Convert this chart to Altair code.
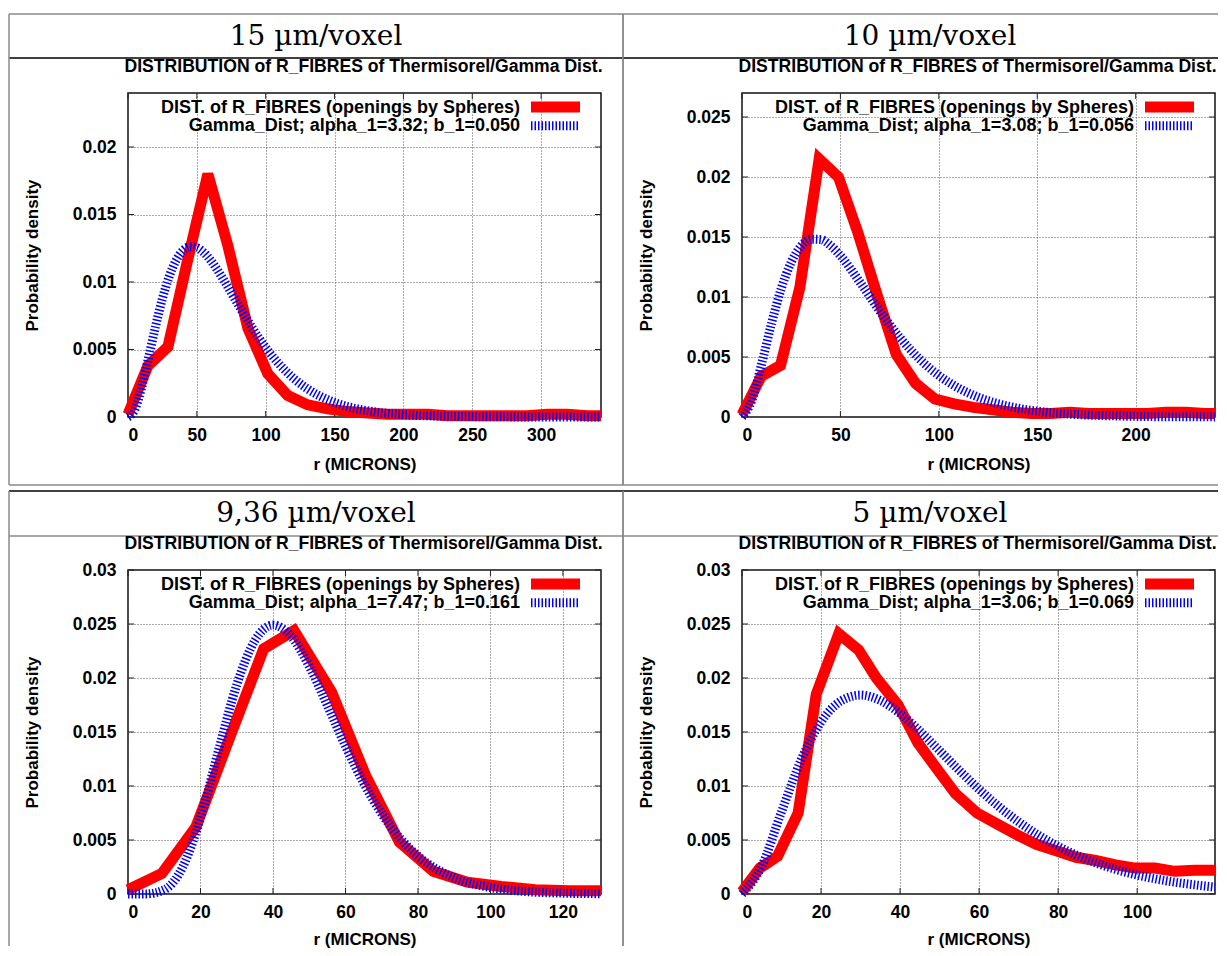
import altair as alt
import pandas as pd

SANS = "Liberation Sans"
SERIF = "DejaVu Serif"

# ---------------- texts ----------------
headers = ["15 \u00b5m/voxel", "10 \u00b5m/voxel", "9,36 \u00b5m/voxel", "5 \u00b5m/voxel"]
subtitle = "DISTRIBUTION of R_FIBRES of Thermisorel/Gamma Dist."
legend_red = "DIST. of R_FIBRES (openings by Spheres)"
legend_blue = [
    "Gamma_Dist; alpha_1=3.32; b_1=0.050",
    "Gamma_Dist; alpha_1=3.08; b_1=0.056",
    "Gamma_Dist; alpha_1=7.47; b_1=0.161",
    "Gamma_Dist; alpha_1=3.06; b_1=0.069",
]
x_title = "r (MICRONS)"
y_title = "Probability density"

# ---------------- axes ----------------
x_max = [343.5, 240.3, 130.5, 119.7]
y_max = [0.024, 0.027, 0.03, 0.03]
x_ticks = [
    [0, 50, 100, 150, 200, 250, 300],
    [0, 50, 100, 150, 200],
    [0, 20, 40, 60, 80, 100, 120],
    [0, 20, 40, 60, 80, 100],
]
y_ticks = [
    [0, 0.005, 0.01, 0.015, 0.02],
    [0, 0.005, 0.01, 0.015, 0.02, 0.025],
    [0, 0.005, 0.01, 0.015, 0.02, 0.025, 0.03],
    [0, 0.005, 0.01, 0.015, 0.02, 0.025, 0.03],
]

# ---------------- data: measured distributions (red) ----------------
red_r1 = [0, 14.5, 29, 43.5, 58, 72.5, 87, 101.5, 116, 130.5, 145, 159.5, 174, 188.5,
          203, 217.5, 232, 246.5, 261, 275.5, 290, 304.5, 319, 333.5, 343.5]
red_p1 = [0.0002, 0.0038, 0.0052, 0.0117, 0.018, 0.0127, 0.0066, 0.0032, 0.0016, 0.0009,
          0.0006, 0.0004, 0.0003, 0.0002, 0.0002, 0.0002, 0.0001, 0.0001, 0.0001, 0.0001,
          0.0001, 0.0002, 0.0002, 0.0001, 0.0001]

red_r2 = [0, 9.8, 19.6, 29.4, 39.2, 49, 58.8, 68.6, 78.4, 88.2, 98, 107.8, 117.6, 127.4,
          137.2, 147, 156.8, 166.6, 176.4, 186.2, 196, 205.8, 215.6, 225.4, 235.2, 240.3]
red_p2 = [0.0002, 0.0034, 0.0043, 0.0108, 0.0215, 0.0200, 0.0154, 0.0102, 0.0052, 0.0028,
          0.0015, 0.0011, 0.0008, 0.0006, 0.0004, 0.0003, 0.0003, 0.0004, 0.0003, 0.0003,
          0.0003, 0.0003, 0.0004, 0.0004, 0.0003, 0.0003]

red_r3 = [0, 9.36, 18.72, 28.08, 37.44, 45.8, 56.16, 65.52, 74.88, 84.24, 93.6, 102.96,
          112.32, 121.68, 130.5]
red_p3 = [0.0004, 0.0019, 0.0062, 0.0145, 0.0227, 0.0244, 0.0187, 0.011, 0.0048, 0.0021,
          0.0011, 0.0007, 0.0004, 0.0003, 0.0003]

red_r4 = [0, 4.5, 9, 14.2, 18.8, 24.5, 29.5, 34, 39.5, 44.5, 49.5, 54, 59.5, 64.5, 69.5,
          74.5, 79.5, 84.5, 89.5, 94.5, 99.5, 104.5, 109.5, 114.5, 119.7]
red_p4 = [0.0002, 0.0024, 0.0035, 0.0075, 0.0185, 0.0241, 0.0226, 0.02, 0.0175, 0.014,
          0.0115, 0.0093, 0.0075, 0.0065, 0.0055, 0.0046, 0.004, 0.0034, 0.0031, 0.0027,
          0.0024, 0.0024, 0.0021, 0.0022, 0.0022]

# ---------------- data: fitted gamma curves (blue) ----------------
blue_r1 = [0, 5, 10, 15, 20, 25, 30, 35, 40, 45, 50, 55, 60, 70, 80, 90, 100, 110, 120,
           130, 140, 150, 160, 180, 200, 225, 250, 275, 300, 343.5]
blue_p1 = [0, 0.00057, 0.00222, 0.00442, 0.00671, 0.00877, 0.01043, 0.01161, 0.01233,
           0.01262, 0.01254, 0.01219, 0.01161, 0.01007, 0.00833, 0.00664, 0.00514, 0.00389,
           0.00289, 0.00211, 0.00152, 0.00108, 0.00076, 0.00037, 0.00017, 0.00007, 0.00003,
           0.00001, 0.000004, 0.0000005]

blue_r2 = [0, 5, 10, 15, 20, 25, 30, 35, 40, 45, 50, 60, 70, 80, 90, 100, 110, 120, 130,
           140, 150, 170, 190, 210, 240.3]
blue_p2 = [0, 0.00139, 0.00444, 0.0078, 0.01073, 0.0129, 0.01424, 0.01482, 0.01479,
           0.01428, 0.01344, 0.01122, 0.00883, 0.00666, 0.00486, 0.00346, 0.00241, 0.00165,
           0.00111, 0.00074, 0.00049, 0.00021, 0.00009, 0.00003, 0.00001]

blue_r3 = [0, 5, 10, 15, 20, 25, 30, 35, 40, 45, 50, 55, 60, 65, 70, 75, 80, 90, 100, 110,
           120, 130.5]
blue_p3 = [0, 0.00001, 0.0004, 0.00244, 0.00703, 0.01332, 0.01937, 0.02347, 0.0249,
           0.02385, 0.02109, 0.01746, 0.0137, 0.01028, 0.00743, 0.00519, 0.00352, 0.00151,
           0.0006, 0.00022, 0.00008, 0.00003]

blue_r4 = [0, 5, 10, 15, 20, 25, 30, 35, 40, 45, 50, 55, 60, 65, 70, 75, 80, 85, 90, 95,
           100, 105, 110, 115, 119.7]
blue_p4 = [0, 0.00258, 0.00762, 0.01244, 0.01593, 0.01786, 0.01842, 0.01792, 0.01671,
           0.01508, 0.01327, 0.01144, 0.00969, 0.0081, 0.00668, 0.00545, 0.00441, 0.00354,
           0.00282, 0.00223, 0.00176, 0.00138, 0.00107, 0.00083, 0.00064]

red_r = [red_r1, red_r2, red_r3, red_r4]
red_p = [red_p1, red_p2, red_p3, red_p4]
blue_r = [blue_r1, blue_r2, blue_r3, blue_r4]
blue_p = [blue_p1, blue_p2, blue_p3, blue_p4]

# ---------------- layout ----------------
W, H = 473, 324
GRAY = "#8a8a8a"
BLACK = "#000000"
one = pd.DataFrame({"k": [0]})


def line(x1, y1, x2, y2, color, width=1.5):
    return alt.Chart(one).mark_rule(color=color, strokeWidth=width).encode(
        x=alt.value(x1), y=alt.value(y1), x2=alt.value(x2), y2=alt.value(y2))


def txt(s, x, y, size, font, align="center", weight="bold"):
    return alt.Chart(pd.DataFrame({"t": [s]})).mark_text(
        font=font, fontSize=size, fontWeight=weight, align=align,
        baseline="alphabetic", color="black").encode(
        x=alt.value(x), y=alt.value(y), text="t:N")


def borders(i):
    L, R = -119, 495
    if i == 1 or i == 3:
        R = 478
    if i < 2:
        T, B, HL = -79, 392, -35
        segs = [line(L, T, R, T, GRAY), line(L, HL, R, HL, BLACK),
                line(L, T, L, B, GRAY), line(L, B, R, B, GRAY)]
        if i == 0:
            segs.append(line(R, T, R, B, GRAY))
    else:
        T, B, HL = -79, 376, -34
        segs = [line(L, T, R, T, BLACK), line(L, HL, R, HL, GRAY),
                line(L, T, L, B, GRAY)]
        if i == 2:
            segs.append(line(R, T, R, B, GRAY))
    return segs


def panel(i):
    rdf = pd.DataFrame({"r": red_r[i], "p": red_p[i]})
    bdf = pd.DataFrame({"r": blue_r[i], "p": blue_p[i]})
    xt = pd.DataFrame({"r": x_ticks[i]})
    yt = pd.DataFrame({"p": y_ticks[i]})
    x = alt.X("r:Q", scale=alt.Scale(domain=[0, x_max[i]], nice=False, zero=True),
              axis=alt.Axis(values=x_ticks[i], format="d", title=x_title,
                            titleY=52 if i < 2 else 50, titleBaseline="alphabetic"))
    y = alt.Y("p:Q", scale=alt.Scale(domain=[0, y_max[i]], nice=False, zero=True),
              axis=alt.Axis(values=y_ticks[i], format="~g", title=y_title,
                            titleX=-91, titleY=H / 2, titleAngle=270,
                            titleBaseline="alphabetic", titleAlign="center"))
    # gnuplot-style inward tick marks on all four sides
    tick_style = dict(color="#222222", strokeWidth=1)
    ticks = [
        alt.Chart(xt).mark_rule(**tick_style).encode(x=x, y=alt.value(H), y2=alt.value(H - 6)),
        alt.Chart(xt).mark_rule(**tick_style).encode(x=x, y=alt.value(0), y2=alt.value(6)),
        alt.Chart(yt).mark_rule(**tick_style).encode(y=y, x=alt.value(0), x2=alt.value(6)),
        alt.Chart(yt).mark_rule(**tick_style).encode(y=y, x=alt.value(W - 6), x2=alt.value(W)),
    ]
    red = alt.Chart(rdf).mark_line(color="#ff0000", strokeWidth=11,
                                   strokeJoin="miter", clip=False).encode(x=x, y=y)
    blue = alt.Chart(bdf).mark_line(color="#0000ff", strokeWidth=9, strokeDash=[1.5, 2],
                                    interpolate="monotone", clip=False).encode(x=x, y=y)
    leg = [
        txt(legend_red, 392, 20, 18, SANS, align="right"),
        txt(legend_blue[i], 392, 38, 18, SANS, align="right"),
        alt.Chart(one).mark_rule(color="#ff0000", strokeWidth=11).encode(
            x=alt.value(403), x2=alt.value(452), y=alt.value(14), y2=alt.value(14)),
        alt.Chart(one).mark_rule(color="#0000ff", strokeWidth=9, strokeDash=[1.5, 2]).encode(
            x=alt.value(403), x2=alt.value(452), y=alt.value(32.7), y2=alt.value(32.7)),
    ]
    deco = borders(i) + [
        txt(headers[i], 188, -48, 28, SERIF, weight="normal"),
        txt(subtitle, 235.5, -21, 17.6, SANS),
    ]
    return alt.layer(*deco, *ticks, red, blue, *leg).properties(width=W, height=H)


chart = alt.concat(
    *[panel(i) for i in range(4)], columns=2,
    spacing={"row": 153, "column": 141}, bounds="flush",
).properties(
    padding={"left": -1, "top": 4, "right": -20.5, "bottom": 0}
).configure_view(
    stroke="#111111", strokeWidth=1.5
).configure_axis(
    domain=False, ticks=False, tickSize=0,
    grid=True, gridColor="#555555", gridDash=[1, 2], gridWidth=1,
    labelFont=SANS, labelFontSize=17.5, labelFontWeight="bold", labelColor="black",
    titleFont=SANS, titleFontSize=17, titleFontWeight="bold", titleColor="black",
).configure_axisX(
    labelPadding=9
).configure_axisY(
    labelPadding=12
)

chart.save("out.html", embed_options={"renderer": "svg", "actions": False})
